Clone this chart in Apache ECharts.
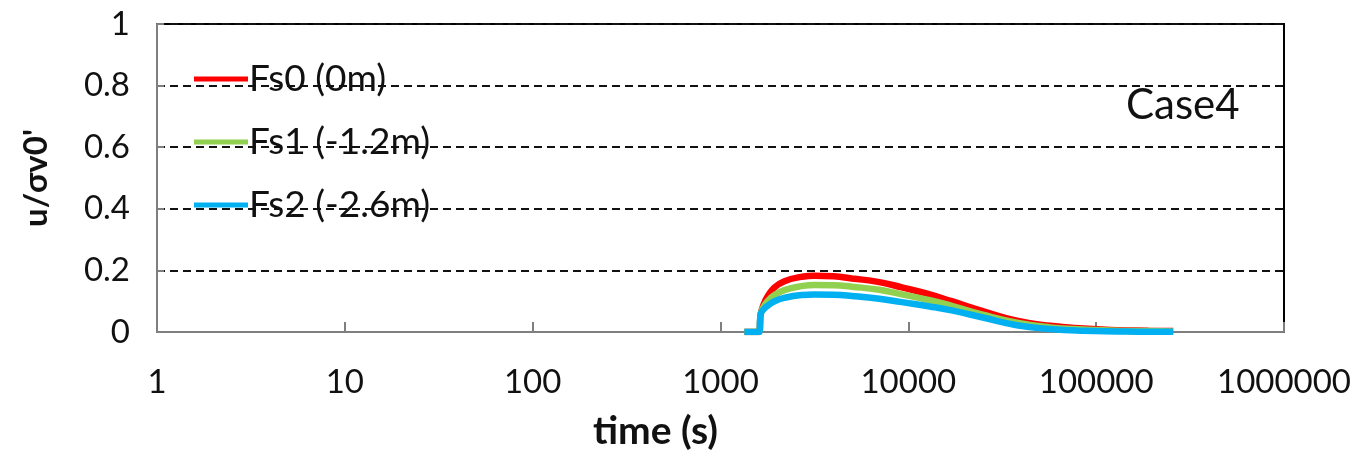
<!DOCTYPE html>
<html>
<head>
<meta charset="utf-8">
<script src="https://cdn.jsdelivr.net/npm/echarts@6/dist/echarts.min.js"></script>
<style>
  html, body { margin: 0; padding: 0; background: #fff; }
  #main { width: 1363px; height: 456px; }
</style>
</head>
<body>
<div id="main"></div>
<script>
// time (s), shared by all three gauges
var times = [1340, 1600, 1640, 1700, 1780, 1940, 2190, 2700, 3170, 4000, 5000, 7000, 9230, 13000, 17000, 24900, 37800, 56900, 85400, 129000, 190000, 257000];
var fs0 = [0, 0, 0.06, 0.09, 0.115, 0.145, 0.165, 0.179, 0.183, 0.181, 0.174, 0.162, 0.145, 0.122, 0.1, 0.068, 0.037, 0.02, 0.011, 0.006, 0.004, 0.003];
var fs1 = [0, 0, 0.06, 0.083, 0.1, 0.12, 0.136, 0.149, 0.153, 0.152, 0.147, 0.137, 0.122, 0.103, 0.085, 0.056, 0.03, 0.015, 0.008, 0.004, 0.003, 0.002];
var fs2 = [0, 0, 0.06, 0.074, 0.085, 0.1, 0.111, 0.12, 0.122, 0.121, 0.117, 0.108, 0.097, 0.083, 0.07, 0.047, 0.022, 0.01, 0.004, 0.002, 0.001, 0.001];
var names = ['Fs0 (0m)', 'Fs1 (-1.2m)', 'Fs2 (-2.6m)'];
var colors = ['#ff0000', '#92d050', '#00b0f0'];

function pairs(vals) {
  return times.map(function (t, i) { return [t, vals[i]]; });
}

var chart = echarts.init(document.getElementById('main'));
var font = 'Lato, "Open Sans", sans-serif';

var option = {
  animation: false,
  textStyle: { fontFamily: font },
  grid: {
    left: 157, right: 79, top: 24, bottom: 124,
    show: true, borderColor: '#000', borderWidth: 2
  },
  legend: {
    orient: 'vertical',
    left: 189, top: 54,
    itemGap: 23,
    icon: 'rect',
    itemWidth: 54, itemHeight: 5,
    textStyle: { fontSize: 37, color: '#111', lineHeight: 40, padding: [0, 0, 0, -4] },
    data: names
  },
  xAxis: {
    type: 'log', logBase: 10, min: 1, max: 1000000, interval: 1,
    name: 'time (s)', nameLocation: 'middle', nameGap: 80,
    nameTextStyle: { fontSize: 39, fontWeight: 'bold', color: '#111', padding: [0, 130, 0, 0] },
    axisLine: { lineStyle: { color: '#7f7f7f', width: 2 } },
    axisTick: { inside: true, length: 10, lineStyle: { color: '#7f7f7f', width: 2 } },
    axisLabel: {
      fontSize: 33, color: '#111', margin: 34,
      formatter: function (v) { return String(Math.round(v)); }
    },
    splitLine: { show: false }
  },
  yAxis: {
    type: 'value', min: 0, max: 1, interval: 0.2,
    name: "u/σv0'", nameLocation: 'middle', nameGap: 104,
    nameTextStyle: { fontSize: 33, fontWeight: 'bold', color: '#111' },
    axisLine: { show: true, lineStyle: { color: '#7f7f7f', width: 2 } },
    axisTick: { show: true, inside: true, length: 7, lineStyle: { color: '#7f7f7f', width: 2 } },
    axisLabel: { fontSize: 33, color: '#111', margin: 27 },
    splitLine: { lineStyle: { color: '#111', width: 2, type: [8, 5] } }
  },
  graphic: [{
    type: 'text', left: 1126, top: 84,
    style: { text: 'Case4', font: '42px ' + font, fill: '#111' }
  }],
  series: [fs0, fs1, fs2].map(function (vals, i) {
    return {
      name: names[i], type: 'line', data: pairs(vals),
      showSymbol: false, smooth: 0.5,
      itemStyle: { color: colors[i] },
      lineStyle: { color: colors[i], width: 6.5 }
    };
  })
};
chart.setOption(option);
</script>
</body>
</html>
